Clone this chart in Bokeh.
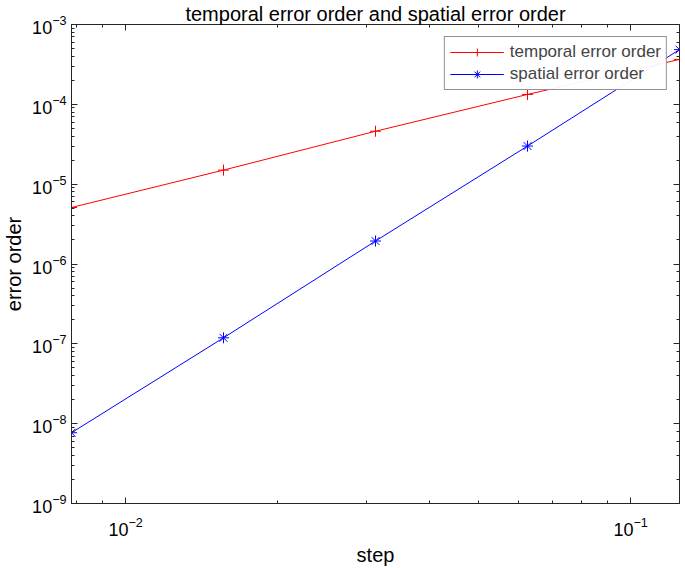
from bokeh.plotting import figure
from bokeh.models import (LogAxis, CustomJSTickFormatter, Legend, LegendItem,
                          Range1d, FixedTicker, LogTicker)
from bokeh.embed import file_html
from bokeh.resources import INLINE

step = [1/128, 1/64, 1/32, 1/16, 1/8]
temporal_err = [5.1e-6, 1.5e-5, 4.6e-5, 1.33e-4, 3.65e-4]
spatial_err = [7.7e-9, 1.19e-7, 1.94e-6, 3.0e-5, 4.85e-4]
x_major = [0.01, 0.1]
x_minor = [0.008, 0.009, 0.02, 0.03, 0.04, 0.05, 0.06, 0.07, 0.08, 0.09]
title_text = "temporal error order and spatial error order"
x_label = "step"
y_label = "error order"

FONT = "Liberation Sans"
AX = "#262626"

p = figure(width=685, height=568, x_axis_type="log", y_axis_type="log",
           x_range=Range1d(1/128, 1/8), y_range=Range1d(1e-9, 1e-3),
           output_backend="svg", toolbar_location=None,
           min_border_left=69, min_border_right=6, min_border_top=0,
           min_border_bottom=65)
p.title.text = title_text
p.title.align = "center"
p.title.text_font = FONT
p.title.text_font_style = "normal"
p.title.text_font_size = "20px"
p.title.text_color = "black"
p.title.standoff = 0
p.title.offset = 0
p.grid.visible = False
p.outline_line_color = AX

p.xaxis[0].ticker = FixedTicker(ticks=x_major, minor_ticks=x_minor)

for ax in (p.xaxis[0], p.yaxis[0]):
    ax.major_label_text_font = FONT
    ax.major_label_text_font_size = "18px"
    ax.axis_label_text_font = FONT
    ax.axis_label_text_font_size = "20px"
    ax.axis_label_text_font_style = "normal"
    ax.major_tick_in = 6
    ax.major_tick_out = 0
    ax.minor_tick_in = 3
    ax.minor_tick_out = 0
    ax.axis_line_color = AX
    ax.major_tick_line_color = AX
    ax.minor_tick_line_color = AX
    ax.major_label_text_color = "black"
    ax.axis_label_text_color = "black"
p.xaxis[0].axis_label = x_label
p.yaxis[0].axis_label = y_label
p.yaxis[0].major_label_standoff = 5
p.yaxis[0].axis_label_standoff = 4
p.xaxis[0].major_label_standoff = 13
p.xaxis[0].axis_label_standoff = 5

blank = CustomJSTickFormatter(code="return '';")
top_ax = LogAxis(ticker=FixedTicker(ticks=x_major, minor_ticks=x_minor))
right_ax = LogAxis(ticker=LogTicker())
for a, loc in ((top_ax, "above"), (right_ax, "right")):
    a.formatter = blank
    a.major_tick_in = 6
    a.major_tick_out = 0
    a.minor_tick_in = 3
    a.minor_tick_out = 0
    a.axis_line_color = AX
    a.major_tick_line_color = AX
    a.minor_tick_line_color = AX
    a.major_label_standoff = 0
    a.major_label_text_font_size = "0px"
    p.add_layout(a, loc)

r1 = p.line(step, temporal_err, color="red", line_width=1)
m1 = p.scatter(step, temporal_err, marker="cross", size=11, color="red", line_width=1)
r2 = p.line(step, spatial_err, color="blue", line_width=1)
m2 = p.scatter(step, spatial_err, marker="asterisk", size=11, color="blue", line_width=1)

legend = Legend(items=[LegendItem(label="temporal error order", renderers=[r1, m1]),
                       LegendItem(label="spatial error order", renderers=[r2, m2])],
                location="top_right", label_text_font=FONT, label_text_font_size="17px",
                border_line_color=AX, border_line_width=1, glyph_width=54,
                spacing=2, padding=5, margin=12, label_standoff=6)
p.add_layout(legend)

open("out.html", "w").write(file_html(p, INLINE))
